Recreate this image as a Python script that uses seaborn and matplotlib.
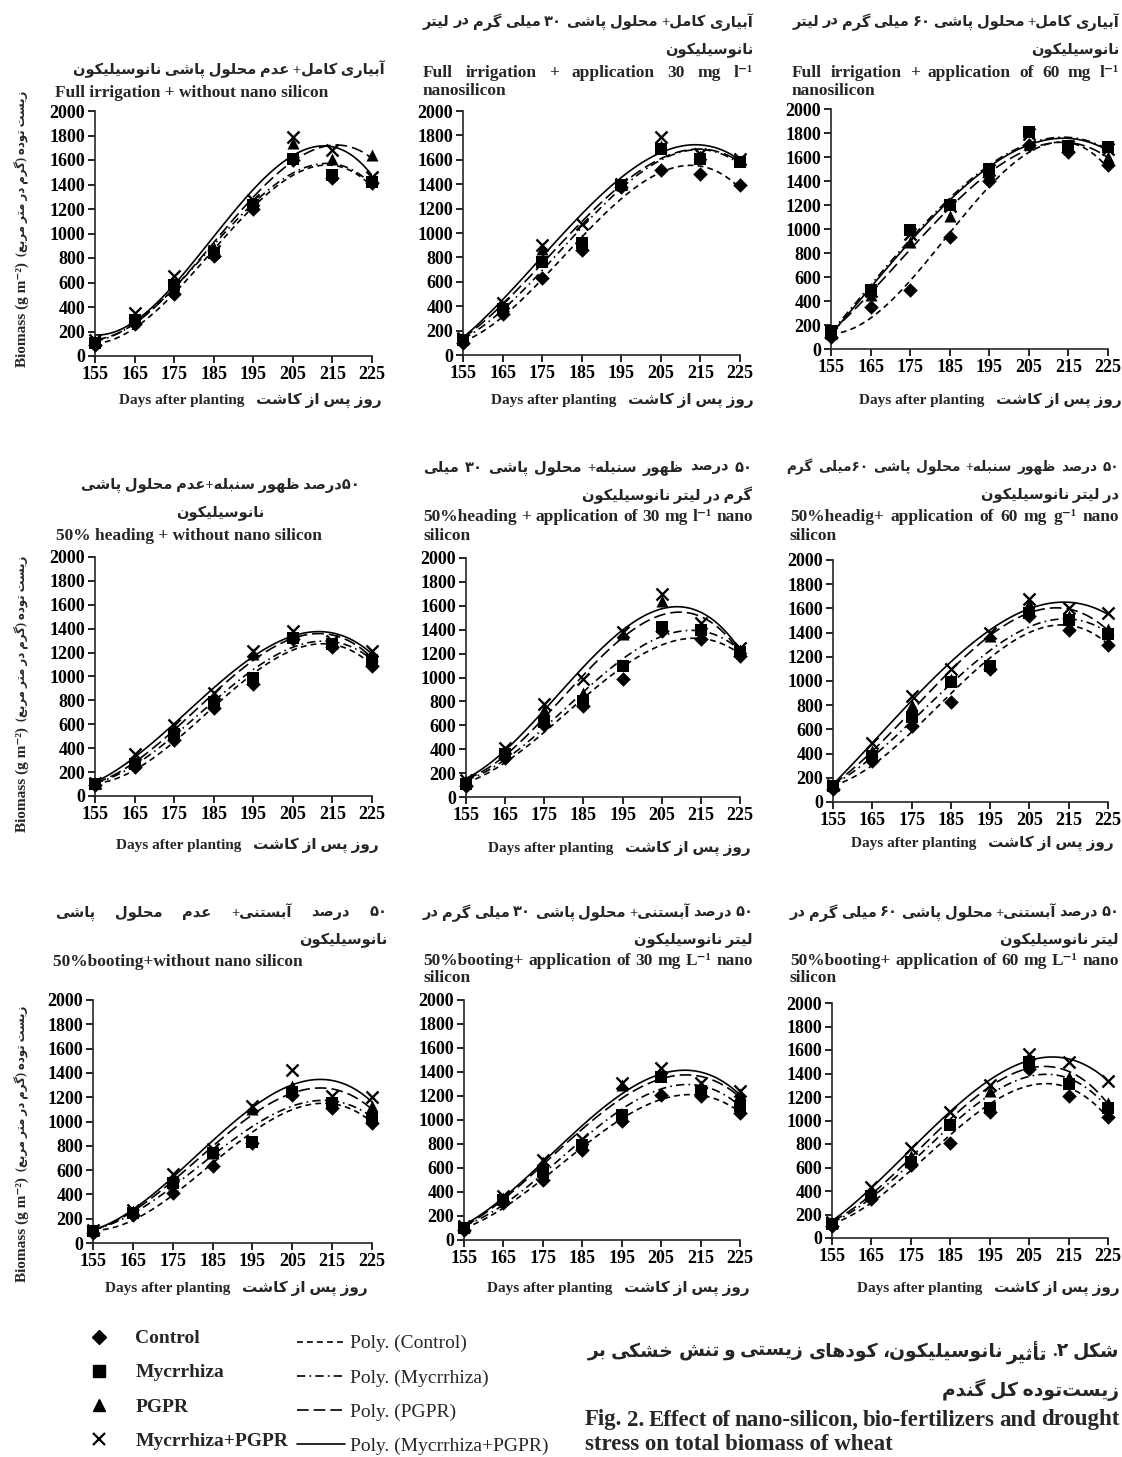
import numpy as np
import pandas as pd
import matplotlib
matplotlib.use("Agg")
import matplotlib.pyplot as plt
import seaborn as sns
from matplotlib.lines import Line2D

# ---------------- data ----------------
days = [155, 165, 175, 185, 195, 205, 215, 225]
treatments = ["Control", "Mycrrhiza", "PGPR", "Mycrrhiza+PGPR"]
y_ticks = [0, 200, 400, 600, 800, 1000, 1200, 1400, 1600, 1800, 2000]

# Full irrigation + without nano silicon
p1_control = [90, 260, 510, 820, 1200, 1600, 1450, 1410]
p1_myc = [110, 290, 580, 840, 1230, 1610, 1480, 1420]
p1_pgpr = [120, 300, 560, 880, 1250, 1740, 1610, 1640]
p1_mp = [130, 350, 650, 860, 1270, 1790, 1680, 1460]
# Full irrigation + 30 mg/l
p2_control = [100, 340, 630, 860, 1380, 1520, 1480, 1390]
p2_myc = [120, 380, 760, 920, 1390, 1690, 1610, 1580]
p2_pgpr = [130, 400, 870, 940, 1400, 1710, 1630, 1590]
p2_mp = [140, 430, 900, 1070, 1400, 1790, 1650, 1610]
# Full irrigation + 60 mg/l
p3_control = [100, 350, 490, 930, 1400, 1700, 1640, 1530]
p3_myc = [150, 490, 990, 1200, 1500, 1810, 1690, 1680]
p3_pgpr = [140, 450, 890, 1110, 1470, 1710, 1690, 1600]
p3_mp = [130, 480, 960, 1190, 1490, 1790, 1690, 1670]
# 50% heading + without nano silicon
p4_control = [90, 240, 470, 740, 940, 1310, 1250, 1090]
p4_myc = [100, 270, 520, 790, 990, 1320, 1270, 1140]
p4_pgpr = [110, 290, 550, 810, 1190, 1350, 1280, 1180]
p4_mp = [110, 350, 590, 860, 1210, 1380, 1300, 1210]
# 50% heading + 30 mg/l
p5_control = [90, 330, 600, 760, 990, 1390, 1320, 1180]
p5_myc = [110, 360, 630, 800, 1100, 1420, 1400, 1210]
p5_pgpr = [130, 380, 730, 870, 1360, 1640, 1420, 1230]
p5_mp = [140, 410, 780, 990, 1380, 1700, 1460, 1250]
# 50% heading + 60 mg/g
p6_control = [110, 340, 630, 830, 1100, 1540, 1420, 1300]
p6_myc = [130, 380, 700, 990, 1120, 1560, 1500, 1390]
p6_pgpr = [140, 420, 800, 1020, 1370, 1640, 1540, 1430]
p6_mp = [140, 490, 880, 1100, 1400, 1680, 1600, 1560]
# 50% booting + without nano silicon
p7_control = [80, 230, 410, 630, 820, 1220, 1110, 990]
p7_myc = [100, 250, 490, 740, 830, 1240, 1150, 1030]
p7_pgpr = [110, 260, 520, 740, 1100, 1290, 1180, 1130]
p7_mp = [110, 270, 570, 770, 1130, 1420, 1210, 1200]
# 50% booting + 30 mg/L
p8_control = [80, 310, 500, 750, 990, 1210, 1200, 1060]
p8_myc = [100, 330, 570, 790, 1040, 1360, 1240, 1120]
p8_pgpr = [110, 350, 650, 810, 1290, 1370, 1280, 1220]
p8_mp = [120, 370, 670, 840, 1310, 1430, 1310, 1240]
# 50% booting + 60 mg/L
p9_control = [100, 330, 620, 810, 1070, 1440, 1210, 1030]
p9_myc = [120, 360, 650, 960, 1110, 1500, 1310, 1110]
p9_pgpr = [130, 390, 700, 980, 1250, 1530, 1370, 1150]
p9_mp = [140, 430, 770, 1070, 1300, 1570, 1500, 1340]

panels = [
    (p1_control, p1_myc, p1_pgpr, p1_mp),
    (p2_control, p2_myc, p2_pgpr, p2_mp),
    (p3_control, p3_myc, p3_pgpr, p3_mp),
    (p4_control, p4_myc, p4_pgpr, p4_mp),
    (p5_control, p5_myc, p5_pgpr, p5_mp),
    (p6_control, p6_myc, p6_pgpr, p6_mp),
    (p7_control, p7_myc, p7_pgpr, p7_mp),
    (p8_control, p8_myc, p8_pgpr, p8_mp),
    (p9_control, p9_myc, p9_pgpr, p9_mp),
]

# ---------------- Persian shaping helpers ----------------
FORMS = {
    '\u0622': ('\uFE81', '\uFE82', None, None),
    '\u0623': ('\uFE83', '\uFE84', None, None),
    '\u0627': ('\uFE8D', '\uFE8E', None, None),
    '\u0628': ('\uFE8F', '\uFE90', '\uFE91', '\uFE92'),
    '\u062A': ('\uFE95', '\uFE96', '\uFE97', '\uFE98'),
    '\u062B': ('\uFE99', '\uFE9A', '\uFE9B', '\uFE9C'),
    '\u062D': ('\uFEA1', '\uFEA2', '\uFEA3', '\uFEA4'),
    '\u062E': ('\uFEA5', '\uFEA6', '\uFEA7', '\uFEA8'),
    '\u062F': ('\uFEA9', '\uFEAA', None, None),
    '\u0631': ('\uFEAD', '\uFEAE', None, None),
    '\u0632': ('\uFEAF', '\uFEB0', None, None),
    '\u0633': ('\uFEB1', '\uFEB2', '\uFEB3', '\uFEB4'),
    '\u0634': ('\uFEB5', '\uFEB6', '\uFEB7', '\uFEB8'),
    '\u0635': ('\uFEB9', '\uFEBA', '\uFEBB', '\uFEBC'),
    '\u0638': ('\uFEC5', '\uFEC6', '\uFEC7', '\uFEC8'),
    '\u0639': ('\uFEC9', '\uFECA', '\uFECB', '\uFECC'),
    '\u0644': ('\uFEDD', '\uFEDE', '\uFEDF', '\uFEE0'),
    '\u0645': ('\uFEE1', '\uFEE2', '\uFEE3', '\uFEE4'),
    '\u0646': ('\uFEE5', '\uFEE6', '\uFEE7', '\uFEE8'),
    '\u0647': ('\uFEE9', '\uFEEA', '\uFEEB', '\uFEEC'),
    '\u0648': ('\uFEED', '\uFEEE', None, None),
    '\u067E': ('\uFB56', '\uFB57', '\uFB58', '\uFB59'),
    '\u06A9': ('\uFB8E', '\uFB8F', '\uFB90', '\uFB91'),
    '\u06AF': ('\uFB92', '\uFB93', '\uFB94', '\uFB95'),
    '\u06CC': ('\uFBFC', '\uFBFD', '\uFBFE', '\uFBFF'),
}
MIRROR = {'(': ')', ')': '('}


def shape(s):
    out = []
    n = len(s)
    for i, c in enumerate(s):
        if c not in FORMS:
            if c != '\u200c':
                out.append(c)
            continue
        prev = s[i - 1] if i > 0 else ''
        nxt = s[i + 1] if i < n - 1 else ''
        jp = prev in FORMS and FORMS[prev][2] is not None
        jn = FORMS[c][2] is not None and nxt in FORMS
        f = FORMS[c]
        if jp and jn:
            out.append(f[3])
        elif jp:
            out.append(f[1])
        elif jn:
            out.append(f[2])
        else:
            out.append(f[0])
    return ''.join(out)


def rtl(s):
    s = shape(s)
    runs = []
    for c in s:
        ltr = c.isdigit() or ('a' <= c.lower() <= 'z')
        if runs and runs[-1][0] == ltr:
            runs[-1][1].append(c)
        else:
            runs.append([ltr, [c]])
    res = ''
    for ltr, chars in reversed(runs):
        if ltr:
            res += ''.join(chars)
        else:
            res += ''.join(MIRROR.get(ch, ch) for ch in reversed(chars))
    return res


# ---------------- figure ----------------
sns.set_style("ticks")
FAM = ['Liberation Serif', 'DejaVu Sans']
plt.rcParams['font.family'] = FAM
plt.rcParams['font.weight'] = 'bold'
plt.rcParams['axes.linewidth'] = 1.2

W, H = 1122, 1457
fig = plt.figure(figsize=(W / 100, H / 100), dpi=100)
fig.patch.set_facecolor('white')

EN = 12.5   # english title size
FA = 10.5   # persian title size


def fx(x):
    return x / W


def fy(y):
    return 1 - y / H


def ftext(x, y, s, ha='left', size=EN, **kw):
    return fig.text(fx(x), fy(y), s, ha=ha, va='center', fontsize=size,
                    fontweight='bold', family=FAM, **kw)


renderer = fig.canvas.get_renderer()


def justify(words, x0, x1, y, size):
    ts = [fig.text(0, 0, w, fontsize=size, fontweight='bold', family=FAM,
                   va='center', ha='left') for w in words]
    widths = [t.get_window_extent(renderer).width for t in ts]
    gap = (x1 - x0 - sum(widths)) / max(len(ts) - 1, 1)
    gap = max(gap, 3)
    x = x0
    for t, w in zip(ts, widths):
        t.set_position((fx(x), fy(y)))
        x += w + gap


def fa_justify(s, x0, x1, y, size=FA):
    words = [rtl(w) for w in reversed(s.split())]
    justify(words, x0, x1, y, size)


def en_justify(s, x0, x1, y, size=EN):
    justify(s.split(), x0, x1, y, size)


boxes = [
    (95, 372, 111, 356), (463, 740, 111, 355), (831, 1108, 109, 349),
    (95, 372, 557, 796), (466, 740, 558, 797), (833, 1108, 560, 802),
    (93, 372, 1000, 1243), (464, 740, 1000, 1240), (832, 1108, 1003, 1238),
]

markers = ['D', 's', '^', 'x']
msizes = [55, 70, 75, 75]
lstyles = [(0, (3.5, 2.5)), (0, (5, 2.5, 1, 2.5)), (0, (7, 3)), '-']

for idx, (box, series) in enumerate(zip(boxes, panels)):
    x0, x1, yt, yb = box
    ax = fig.add_axes([fx(x0), fy(yb), (x1 - x0) / W, (yb - yt) / H])
    df = pd.DataFrame({
        'day': days * 4,
        'biomass': [v for s in series for v in s],
        'treatment': [t for t in treatments for _ in days],
    })
    for k, t in enumerate(treatments):
        sub = df[df['treatment'] == t]
        sns.regplot(data=sub, x='day', y='biomass', order=3, ci=None,
                    scatter=False, ax=ax, color='black', truncate=True,
                    line_kws=dict(linestyle=lstyles[k], linewidth=1.2))
    for k, t in enumerate(treatments):
        sub = df[df['treatment'] == t]
        kws = dict(linewidth=1.7) if markers[k] == 'x' else dict(linewidth=0)
        sns.scatterplot(data=sub, x='day', y='biomass', marker=markers[k],
                        color='black', s=msizes[k], ax=ax, legend=False,
                        zorder=4, **kws)
    for coll in ax.collections:
        coll.set_clip_on(False)
    ax.set_xlim(155, 225)
    ax.set_ylim(0, 2000)
    ax.set_xticks(days)
    ax.set_yticks(y_ticks)
    ax.set_xlabel('')
    ax.set_ylabel('')
    ax.set_facecolor('none')
    sns.despine(ax=ax)
    ax.tick_params(direction='out', length=5, width=1.2, labelsize=13, pad=2,
                   colors='black')
    for lab in ax.get_xticklabels() + ax.get_yticklabels():
        lab.set_fontweight('bold')
        lab.set_family(FAM)

# ---------------- titles ----------------
RX = 1119  # right edge for right-column texts
# Panel 1
ftext(385, 70, rtl("آبیاری کامل+ عدم محلول پاشی نانوسیلیکون"), ha='right', size=FA)
ftext(192, 93, "Full irrigation + without nano silicon", ha='center')
# Panel 2
fa_justify("آبیاری کامل+ محلول پاشی ۳۰ میلی گرم در لیتر", 423, 753, 22)
ftext(753, 50, rtl("نانوسیلیکون"), ha='right', size=FA)
en_justify("Full irrigation + application 30 mg l\u207b\u00b9", 423, 753, 73)
ftext(423, 91, "nanosilicon")
# Panel 3
fa_justify("آبیاری کامل+ محلول پاشی ۶۰ میلی گرم در لیتر", 793, RX, 22)
ftext(RX, 50, rtl("نانوسیلیکون"), ha='right', size=FA)
en_justify("Full irrigation + application of 60 mg l\u207b\u00b9", 792, RX, 73)
ftext(792, 91, "nanosilicon")
# Panel 4
ftext(220, 485, rtl("۵۰درصد ظهور سنبله+عدم محلول پاشی"), ha='center', size=FA)
ftext(220, 513, rtl("نانوسیلیکون"), ha='center', size=FA)
ftext(189, 536, "50% heading + without nano silicon", ha='center')
# Panel 5
fa_justify("۵۰ درصد ظهور سنبله+ محلول پاشی ۳۰ میلی", 423, 752, 468)
ftext(752, 495, rtl("گرم در لیتر نانوسیلیکون"), ha='right', size=FA)
en_justify("50%heading + application of 30 mg l\u207b\u00b9 nano", 423, 753, 517)
ftext(423, 536, "silicon")
# Panel 6
fa_justify("۵۰ درصد ظهور سنبله+ محلول پاشی ۶۰میلی گرم", 786, RX, 467, size=9.8)
ftext(RX, 495, rtl("در لیتر نانوسیلیکون"), ha='right', size=FA)
en_justify("50%headig+ application of 60 mg g\u207b\u00b9 nano", 790, RX, 517)
ftext(790, 536, "silicon")
# Panel 7
fa_justify("۵۰ درصد آبستنی+ عدم محلول پاشی", 55, 387, 913)
ftext(387, 940, rtl("نانوسیلیکون"), ha='right', size=FA)
ftext(53, 962, "50%booting+without nano silicon")
# Panel 8
fa_justify("۵۰ درصد آبستنی+ محلول پاشی ۳۰ میلی گرم در", 423, 753, 913)
ftext(753, 940, rtl("لیتر نانوسیلیکون"), ha='right', size=FA)
en_justify("50%booting+ application of 30 mg L\u207b\u00b9 nano", 423, 753, 961)
ftext(423, 978, "silicon")
# Panel 9
fa_justify("۵۰ درصد آبستنی+ محلول پاشی ۶۰ میلی گرم در", 790, RX, 913)
ftext(RX, 940, rtl("لیتر نانوسیلیکون"), ha='right', size=FA)
en_justify("50%booting+ application of 60 mg L\u207b\u00b9 nano", 790, RX, 961)
ftext(790, 978, "silicon")

# x labels
xlab = "Days after planting   " + rtl("روز پس از کاشت")
for (cx, cy) in [(250, 400), (622, 400), (990, 400),
                 (247, 845), (619, 848), (982, 843),
                 (236, 1288), (618, 1288), (988, 1288)]:
    ftext(cx, cy, xlab, ha='center', size=11)

# y labels (english part + persian part)
for cy in [235, 700, 1150]:
    fig.text(fx(22), fy(cy + 80), "Biomass (g m\u207b\u00b2)", rotation=90,
             ha='center', va='center', fontsize=11, fontweight='bold',
             family=FAM)
    fig.text(fx(22), fy(cy - 62), rtl("زیست توده (گرم در متر مربع)"),
             rotation=90, ha='center', va='center', fontsize=8.5,
             fontweight='bold', family=FAM)

# ---------------- legend ----------------
mk_handles = [
    Line2D([], [], marker='D', color='black', linestyle='none', markersize=7),
    Line2D([], [], marker='s', color='black', linestyle='none', markersize=8),
    Line2D([], [], marker='^', color='black', linestyle='none', markersize=8),
    Line2D([], [], marker='x', color='black', linestyle='none', markersize=8,
           markeredgewidth=1.6),
]
fig.legend(mk_handles, treatments, loc='upper left',
           bbox_to_anchor=(fx(80), fy(1320)), frameon=False,
           prop=dict(family=FAM, weight='bold', size=14),
           labelspacing=0.85, handletextpad=1.35, handlelength=1.0,
           borderpad=0)
ln_handles = [Line2D([], [], color='black', linestyle=ls, linewidth=1.2)
              for ls in lstyles]
fig.legend(ln_handles, ["Poly. (" + t + ")" for t in treatments],
           loc='upper left', bbox_to_anchor=(fx(287), fy(1325)),
           frameon=False,
           prop=dict(family=FAM, weight='normal', size=14),
           labelspacing=0.85, handletextpad=0.25, handlelength=2.5,
           borderpad=0)

# ---------------- caption ----------------
fa_justify("شکل ۲. تأثیر نانوسیلیکون، کودهای زیستی و تنش خشکی بر", 588, RX, 1352,
           size=13.5)
ftext(RX, 1390, rtl("زیست\u200cتوده کل گندم"), ha='right', size=13.5)
en_justify("Fig. 2. Effect of nano-silicon, bio-fertilizers and drought",
           585, RX, 1420, size=16.5)
ftext(585, 1445, "stress on total biomass of wheat", size=16.5)

fig.savefig("out.png", dpi=100, facecolor='white')
